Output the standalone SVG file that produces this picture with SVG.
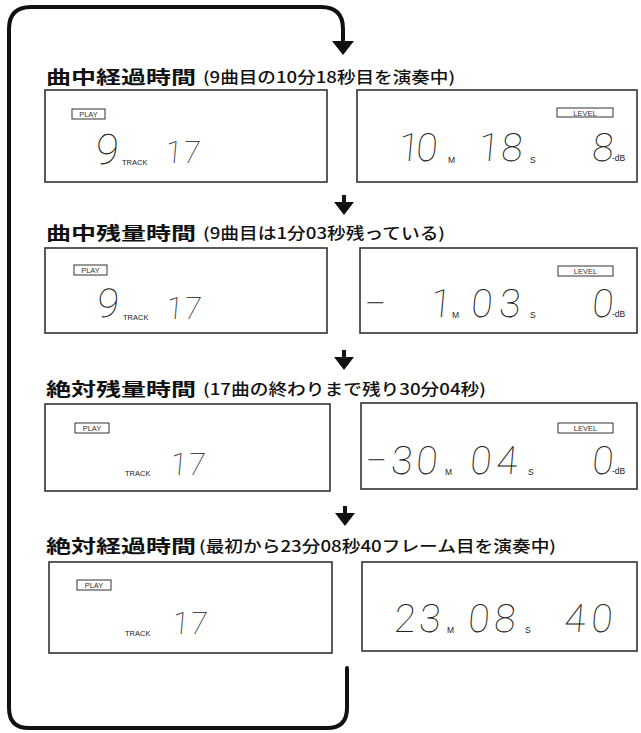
<svg xmlns="http://www.w3.org/2000/svg" width="641" height="733" viewBox="0 0 641 733">
<style>
.bg{fill:#fff}
.loop{fill:none;stroke:#111;stroke-width:4;stroke-linecap:round;stroke-linejoin:round}
.shaft{stroke:#111;stroke-width:4}
.head{fill:#111}
.panel{fill:#fff;stroke:#333;stroke-width:1.6}
.tag{fill:#fff;stroke:#333;stroke-width:1}
.tagt{font-family:"Liberation Sans",Arial,sans-serif;font-size:7.5px;fill:#333;text-anchor:middle}
.h{font-family:"Noto Sans CJK JP",sans-serif;font-weight:700;font-size:18px;fill:#111}
.p{font-family:"Noto Sans CJK JP",sans-serif;font-weight:500;font-size:15.5px;fill:#111}
.seg{font-family:Roboto,"DejaVu Sans",sans-serif;font-weight:100;fill:#222;text-anchor:middle}
.u{font-family:"Liberation Sans",Arial,sans-serif;font-size:8.5px;fill:#222}
.trk{font-family:"Liberation Sans",Arial,sans-serif;font-size:7.5px;fill:#222}
</style>
<rect class="bg" x="0" y="0" width="641" height="733"/>

<g id="connectors">
  <path class="loop" d="M347 668 L347 708 Q347 728 327 728 L29 728 Q9 728 9 708 L9 29 Q9 7 31 7 L321 7 Q343 7 343 29 L343 43"/>
  <polygon class="head" points="332,41 354,41 343,55"/>
  <line class="shaft" x1="344" y1="195" x2="344" y2="204"/>
  <polygon class="head" points="334,202 354,202 344,215"/>
  <line class="shaft" x1="344" y1="350" x2="344" y2="359"/>
  <polygon class="head" points="334,357 354,357 344,370"/>
  <line class="shaft" x1="345" y1="506" x2="345" y2="515"/>
  <polygon class="head" points="335,513 355,513 345,526"/>
</g>

<g id="heading1">
  <text class="h" x="46" y="84" textLength="150" lengthAdjust="spacingAndGlyphs">曲中経過時間</text>
  <text class="p" x="203" y="83" textLength="252" lengthAdjust="spacingAndGlyphs">(9曲目の10分18秒目を演奏中)</text>
</g>
<g id="heading2">
  <text class="h" x="46" y="240" textLength="150" lengthAdjust="spacingAndGlyphs">曲中残量時間</text>
  <text class="p" x="203" y="239" textLength="242" lengthAdjust="spacingAndGlyphs">(9曲目は1分03秒残っている)</text>
</g>
<g id="heading3">
  <text class="h" x="46" y="396" textLength="150" lengthAdjust="spacingAndGlyphs">絶対残量時間</text>
  <text class="p" x="203" y="395" textLength="283" lengthAdjust="spacingAndGlyphs">(17曲の終わりまで残り30分04秒)</text>
</g>
<g id="heading4">
  <text class="h" x="46" y="553" textLength="150" lengthAdjust="spacingAndGlyphs">絶対経過時間</text>
  <text class="p" x="199" y="552" textLength="357" lengthAdjust="spacingAndGlyphs">(最初から23分08秒40フレーム目を演奏中)</text>
</g>

<g id="row1-left">
  <rect class="panel" x="45" y="90" width="282" height="92"/>
  <rect class="tag" x="72" y="109" width="33" height="10"/>
  <text class="tagt" x="88.5" y="117">PLAY</text>
  <g transform="translate(0,164) skewX(-5)"><text class="seg" x="106" y="0" font-size="42">9</text></g>
  <text class="trk" x="122" y="165">TRACK</text>
  <g transform="translate(0,163) skewX(-5)"><text class="seg" x="173" y="0" font-size="31">1</text><text class="seg" x="191" y="0" font-size="31">7</text></g>
</g>
<g id="row1-right">
  <rect class="panel" x="357" y="90" width="280" height="92"/>
  <rect class="tag" x="557" y="108" width="56" height="9"/>
  <text class="tagt" x="585" y="115.5">LEVEL</text>
  <g transform="translate(0,161) skewX(-5)">
    <text class="seg" x="408" y="0" font-size="39">1</text><text class="seg" x="426" y="0" font-size="39">0</text>
    <text class="seg" x="488" y="0" font-size="39">1</text><text class="seg" x="511" y="0" font-size="39">8</text>
    <text class="seg" x="602" y="0" font-size="39">8</text>
  </g>
  <text class="u" x="448" y="163">M</text>
  <text class="u" x="530" y="163">S</text>
  <text class="u" x="612" y="161">-dB</text>
</g>

<g id="row2-left">
  <rect class="panel" x="45" y="248" width="282" height="85"/>
  <rect class="tag" x="74" y="265" width="33" height="10"/>
  <text class="tagt" x="90.5" y="273">PLAY</text>
  <g transform="translate(0,317) skewX(-5)"><text class="seg" x="107" y="0" font-size="40">9</text></g>
  <text class="trk" x="123" y="320">TRACK</text>
  <g transform="translate(0,319) skewX(-5)"><text class="seg" x="174" y="0" font-size="31">1</text><text class="seg" x="192" y="0" font-size="31">7</text></g>
</g>
<g id="row2-right">
  <rect class="panel" x="360" y="248" width="277" height="85"/>
  <rect class="tag" x="558" y="266" width="55" height="10"/>
  <text class="tagt" x="585.5" y="274">LEVEL</text>
  <g transform="translate(0,317) skewX(-5)">
    <text class="seg" x="374" y="0" font-size="39">−</text>
    <text class="seg" x="440" y="0" font-size="39">1</text>
    <text class="seg" x="481" y="0" font-size="39">0</text><text class="seg" x="509" y="0" font-size="39">3</text>
    <text class="seg" x="602" y="0" font-size="39">0</text>
  </g>
  <text class="u" x="452" y="318">M</text>
  <text class="u" x="530" y="318">S</text>
  <text class="u" x="612" y="317">-dB</text>
</g>

<g id="row3-left">
  <rect class="panel" x="45" y="404" width="285" height="87"/>
  <rect class="tag" x="75" y="423" width="34" height="10"/>
  <text class="tagt" x="92" y="431">PLAY</text>
  <text class="trk" x="125" y="476">TRACK</text>
  <g transform="translate(0,475) skewX(-5)"><text class="seg" x="178" y="0" font-size="31">1</text><text class="seg" x="196" y="0" font-size="31">7</text></g>
</g>
<g id="row3-right">
  <rect class="panel" x="361" y="403" width="276" height="86"/>
  <rect class="tag" x="558" y="423" width="55" height="10"/>
  <text class="tagt" x="585.5" y="431">LEVEL</text>
  <g transform="translate(0,474) skewX(-5)">
    <text class="seg" x="375" y="0" font-size="39">−</text>
    <text class="seg" x="401" y="0" font-size="39">3</text><text class="seg" x="426" y="0" font-size="39">0</text>
    <text class="seg" x="480" y="0" font-size="39">0</text><text class="seg" x="506" y="0" font-size="39">4</text>
    <text class="seg" x="602" y="0" font-size="39">0</text>
  </g>
  <text class="u" x="445" y="475">M</text>
  <text class="u" x="528" y="475">S</text>
  <text class="u" x="612" y="474">-dB</text>
</g>

<g id="row4-left">
  <rect class="panel" x="49" y="562" width="283" height="91"/>
  <rect class="tag" x="77" y="580" width="34" height="10"/>
  <text class="tagt" x="94" y="588">PLAY</text>
  <text class="trk" x="125" y="636">TRACK</text>
  <g transform="translate(0,634) skewX(-5)"><text class="seg" x="180" y="0" font-size="31">1</text><text class="seg" x="198" y="0" font-size="31">7</text></g>
</g>
<g id="row4-right">
  <rect class="panel" x="362" y="562" width="275" height="89"/>
  <g transform="translate(0,632) skewX(-5)">
    <text class="seg" x="404" y="0" font-size="39">2</text><text class="seg" x="429" y="0" font-size="39">3</text>
    <text class="seg" x="478" y="0" font-size="39">0</text><text class="seg" x="504" y="0" font-size="39">8</text>
    <text class="seg" x="574" y="0" font-size="39">4</text><text class="seg" x="601" y="0" font-size="39">0</text>
  </g>
  <text class="u" x="447" y="633">M</text>
  <text class="u" x="525" y="633">S</text>
</g>
</svg>
